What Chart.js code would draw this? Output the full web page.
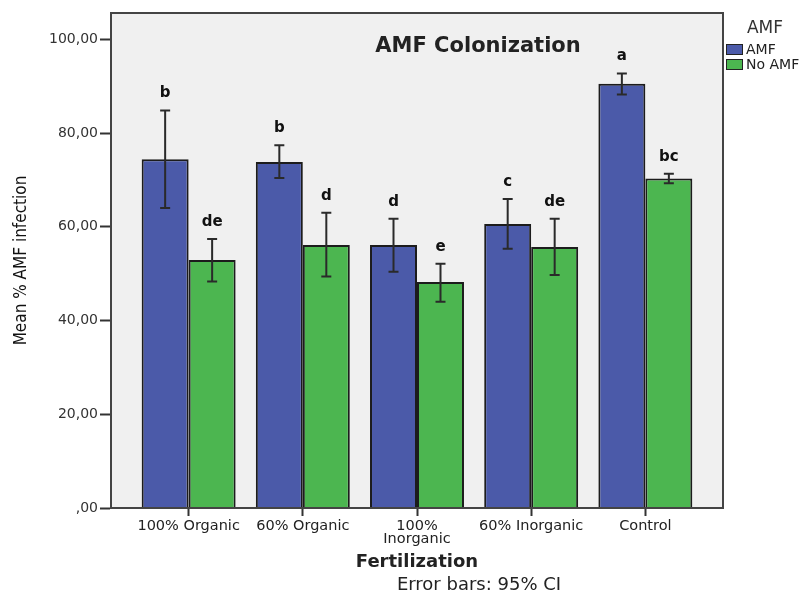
<!DOCTYPE html>
<html>
<head>
<meta charset="utf-8">
<script src="https://cdn.jsdelivr.net/npm/chart.js@4.4.0/dist/chart.umd.min.js"></script>
<style>
  html, body { margin: 0; padding: 0; background: #fff; overflow: hidden; }
</style>
</head>
<body>
<canvas id="chart" width="805" height="592"></canvas>
<script>
// data
const categories = ["100% Organic", "60% Organic", ["100%", "Inorganic"], "60% Inorganic", "Control"];
const amfMeans = [74.4, 73.8, 56.1, 60.6, 90.5];
const amfLow = [64.0, 70.4, 50.4, 55.3, 88.2];
const amfHigh = [84.8, 77.4, 61.7, 65.9, 92.7];
const amfLetters = ["b", "b", "d", "c", "a"];
const noAmfMeans = [52.9, 56.1, 48.2, 55.7, 70.3];
const noAmfLow = [48.3, 49.4, 44.0, 49.7, 69.3];
const noAmfHigh = [57.4, 63.0, 52.1, 61.7, 71.3];
const noAmfLetters = ["de", "d", "e", "de", "bc"];
const yTicks = [0, 20, 40, 60, 80, 100];

const BLUE = "#4b5aa9";
const GREEN = "#4cb650";
const INK = "#222";

// plot background, error bars, letters, title and legend
const plotDecor = {
  id: "plotDecor",
  beforeDraw(chart) {
    const { ctx, chartArea: a } = chart;
    ctx.save();
    ctx.fillStyle = "#f0f0f0";
    ctx.fillRect(a.left, a.top, a.right - a.left, a.bottom - a.top);
    ctx.restore();
  },
  afterDatasetsDraw(chart) {
    const { ctx, chartArea: a, scales: { y } } = chart;
    ctx.save();
    chart.data.datasets.forEach((ds, di) => {
      const meta = chart.getDatasetMeta(di);
      meta.data.forEach((bar, i) => {
        const top = y.getPixelForValue(ds.errHigh[i]);
        const bot = y.getPixelForValue(ds.errLow[i]);
        ctx.strokeStyle = "#2a2a2a";
        ctx.lineWidth = 2;
        ctx.beginPath();
        ctx.moveTo(bar.x, top);
        ctx.lineTo(bar.x, bot);
        ctx.moveTo(bar.x - 5, top);
        ctx.lineTo(bar.x + 5, top);
        ctx.moveTo(bar.x - 5, bot);
        ctx.lineTo(bar.x + 5, bot);
        ctx.stroke();

        ctx.fillStyle = "#111";
        ctx.font = "bold 15px 'DejaVu Sans'";
        ctx.textAlign = "center";
        ctx.textBaseline = "middle";
        ctx.fillText(ds.letters[i], bar.x, top - 17);
      });
    });

    // plot frame
    ctx.strokeStyle = "#444";
    ctx.lineWidth = 2;
    ctx.strokeRect(a.left, a.top, a.right - a.left, a.bottom - a.top);

    // title inside the plot
    ctx.fillStyle = INK;
    ctx.font = "bold 21px 'DejaVu Sans'";
    ctx.textAlign = "center";
    ctx.textBaseline = "middle";
    ctx.fillText("AMF Colonization", 478, 47);
    ctx.restore();
  },
  afterDraw(chart) {
    const { ctx } = chart;
    ctx.save();
    ctx.textBaseline = "middle";
    // legend
    ctx.fillStyle = "#333";
    ctx.font = "17px 'DejaVu Sans'";
    ctx.textAlign = "center";
    ctx.fillText("AMF", 765, 29);
    ctx.textAlign = "left";
    chart.data.datasets.forEach((ds, di) => {
      const yy = 44 + di * 15;
      ctx.fillStyle = ds.backgroundColor;
      ctx.fillRect(726, yy, 17, 11);
      ctx.strokeStyle = "#222";
      ctx.lineWidth = 1;
      ctx.strokeRect(726.5, yy + 0.5, 16, 10);
      ctx.fillStyle = INK;
      ctx.font = "14px 'DejaVu Sans'";
      ctx.fillText(ds.label, 746, yy + 6);
    });
    // footnote
    ctx.textAlign = "center";
    ctx.font = "18px 'DejaVu Sans'";
    ctx.fillStyle = INK;
    ctx.fillText("Error bars: 95% CI", 479, 585);
    ctx.restore();
  }
};

const axisFont = { family: "DejaVu Sans", size: 14.5, lineHeight: 0.95 };

new Chart(document.getElementById("chart"), {
  type: "bar",
  data: {
    datasets: [
      {
        label: "AMF",
        data: amfMeans.map((v, i) => ({ x: i, y: v })),
        backgroundColor: BLUE,
        borderColor: "#1c1c1c",
        borderWidth: 2,
        errLow: amfLow,
        errHigh: amfHigh,
        letters: amfLetters,
      },
      {
        label: "No AMF",
        data: noAmfMeans.map((v, i) => ({ x: i, y: v })),
        backgroundColor: GREEN,
        borderColor: "#1c1c1c",
        borderWidth: 2,
        errLow: noAmfLow,
        errHigh: noAmfHigh,
        letters: noAmfLetters,
      },
    ],
  },
  options: {
    responsive: false,
    animation: false,
    layout: { padding: { top: 13, right: 82, bottom: 0, left: 0 } },
    datasets: { bar: { categoryPercentage: 0.823, barPercentage: 1 } },
    plugins: {
      legend: { display: false },
      title: { display: false },
      tooltip: { enabled: false },
    },
    scales: {
      x: {
        type: "linear",
        min: -0.68,
        max: 4.68,
        offset: false,
        afterBuildTicks: (s) => { s.ticks = categories.map((_, i) => ({ value: i })); },
        afterFit: (s) => { s.height = 84; },
        grid: { offset: false, drawOnChartArea: false, drawTicks: true, tickLength: 8, tickWidth: 2, tickColor: "#333" },
        border: { display: true, color: "#333", width: 2 },
        ticks: {
          callback: (v) => categories[v],
          font: axisFont,
          color: INK,
          padding: 3,
          maxRotation: 0,
          autoSkip: false,
        },
        title: {
          display: true,
          text: "Fertilization",
          color: INK,
          font: { family: "DejaVu Sans", size: 18, weight: "bold" },
          padding: { top: 4, bottom: 19 },
        },
      },
      y: {
        min: 0,
        max: 105.6,
        afterBuildTicks: (s) => { s.ticks = yTicks.map((v) => ({ value: v })); },
        afterFit: (s) => { s.width = 111; },
        grid: { drawOnChartArea: false, drawTicks: true, tickLength: 11, tickWidth: 2, tickColor: "#333" },
        border: { display: true, color: "#333", width: 2 },
        ticks: {
          callback: (v) => (v === 0 ? ",00" : v + ",00"),
          font: { family: "DejaVu Sans", size: 14 },
          color: "#333",
          padding: 2,
        },
        title: {
          display: true,
          text: "Mean % AMF infection",
          color: "#111",
          font: { family: "'DejaVu Sans Condensed', 'Liberation Sans'", size: 17 },
          padding: { top: 11, bottom: 0 },
        },
      },
    },
  },
  plugins: [plotDecor],
});
</script>
</body>
</html>
